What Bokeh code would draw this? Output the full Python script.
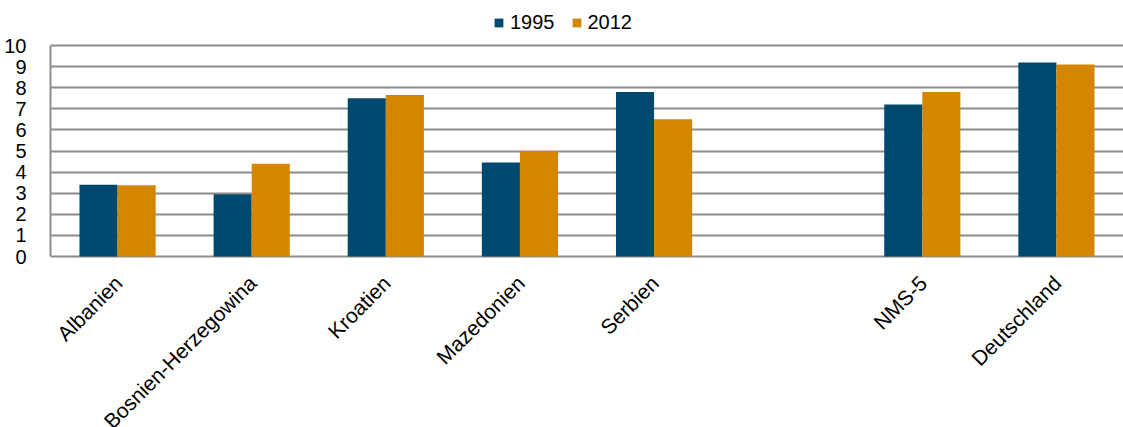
import math
from bokeh.plotting import figure
from bokeh.core.properties import value
from bokeh.models import (FactorRange, Range1d, FixedTicker, ColumnDataSource,
                          LabelSet, Legend, LegendItem)
from bokeh.transform import dodge
from bokeh.embed import file_html
from bokeh.resources import INLINE

# ---- data ----
slots = ["Albanien", "Bosnien-Herzegowina", "Kroatien", "Mazedonien", "Serbien",
         " ", "NMS-5", "Deutschland"]
countries = ["Albanien", "Bosnien-Herzegowina", "Kroatien", "Mazedonien", "Serbien",
             "NMS-5", "Deutschland"]
v1995 = [3.4, 2.95, 7.5, 4.45, 7.8, 7.2, 9.2]
v2012 = [3.38, 4.4, 7.65, 5.0, 6.5, 7.8, 9.1]
series = ["1995", "2012"]
y_ticks = list(range(0, 11))

BLUE = "#00496E"
ORANGE = "#D48600"
GRID = "#8C8C8C"
FONT = "Liberation Sans"

src = ColumnDataSource(dict(cat=countries, v1995=v1995, v2012=v2012))

# frame spans the whole canvas height; 0..10 occupies the plotting band,
# room below 0 holds the rotated category labels, room above 10 the legend
p = figure(width=1123, height=427,
           x_range=FactorRange(factors=slots, range_padding=0),
           y_range=Range1d(-8.104, 12.133),
           output_backend="svg", toolbar_location=None,
           min_border_left=50, min_border_right=0,
           min_border_top=0, min_border_bottom=0)
p.outline_line_color = None
p.background_fill_color = "white"
p.border_fill_color = "white"

bw = 0.284
r1 = p.vbar(x=dodge("cat", -bw / 2, range=p.x_range), top="v1995", width=bw,
            source=src, fill_color=BLUE, line_color=None)
r2 = p.vbar(x=dodge("cat", bw / 2, range=p.x_range), top="v2012", width=bw,
            source=src, fill_color=ORANGE, line_color=None)

# y axis
p.yaxis.ticker = FixedTicker(ticks=y_ticks)
p.yaxis.bounds = (0, 10)
p.yaxis.axis_line_color = GRID
p.yaxis.axis_line_width = 2
p.yaxis.major_tick_line_color = None
p.yaxis.minor_tick_line_color = None
p.yaxis.major_label_text_font = FONT
p.yaxis.major_label_text_font_size = "20px"
p.yaxis.major_label_text_color = "black"
p.yaxis.major_label_standoff = 18

p.xaxis.visible = False

p.xgrid.grid_line_color = None
p.ygrid.ticker = FixedTicker(ticks=y_ticks)
p.ygrid.grid_line_color = GRID
p.ygrid.grid_line_width = 2

labels = LabelSet(x="cat", y=0, text="cat", source=src, angle=math.pi / 4,
                  text_align="right", text_baseline="middle",
                  x_offset=1, y_offset=-23,
                  text_font=value(FONT), text_font_size=value("21px"),
                  text_color="black")
p.add_layout(labels)

legend = Legend(items=[LegendItem(label=series[0], renderers=[r1]),
                       LegendItem(label=series[1], renderers=[r2])],
                orientation="horizontal", location=(443, 393),
                glyph_width=11, glyph_height=11, label_standoff=6, spacing=16,
                padding=0, margin=0, border_line_color=None,
                background_fill_alpha=0,
                label_text_font=FONT, label_text_font_size="20px",
                label_text_color="black")
p.add_layout(legend, "center")

open("out.html", "w").write(file_html(p, INLINE))
